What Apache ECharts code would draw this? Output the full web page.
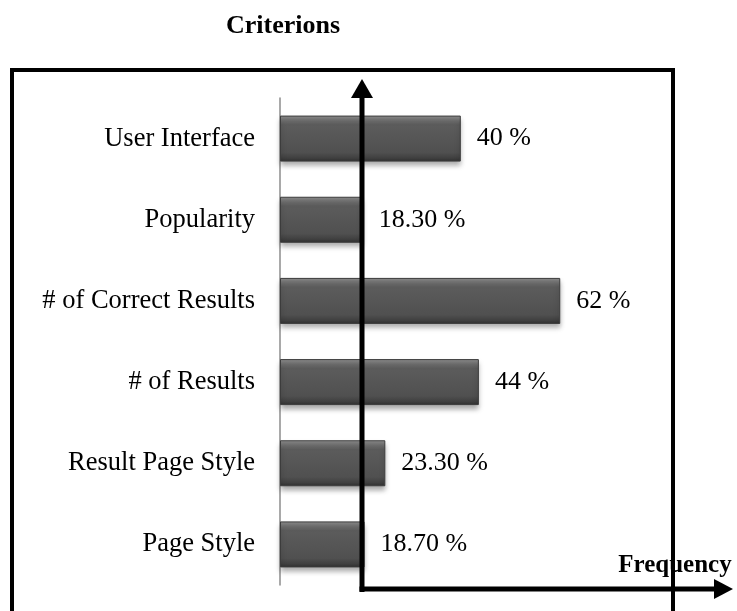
<!DOCTYPE html>
<html>
<head>
<meta charset="utf-8">
<script src="https://cdn.jsdelivr.net/npm/echarts@6/dist/echarts.min.js"></script>
<style>
  html, body { margin: 0; padding: 0; background: #fff; }
  #chart { width: 737px; height: 611px; }
</style>
</head>
<body>
<div id="chart"></div>
<script>
const criteria = ['User Interface', 'Popularity', '# of Correct Results', '# of Results', 'Result Page Style', 'Page Style'];
const frequency = [40, 18.3, 62, 44, 23.3, 18.7];
const valueLabels = ['40 %', '18.30 %', '62 %', '44 %', '23.30 %', '18.70 %'];

document.addEventListener('DOMContentLoaded', () => {
    const chartDom = document.getElementById('chart');
    const myChart = echarts.init(chartDom);
    const serif = 'Liberation Serif, Times New Roman, serif';

    const option = {
        backgroundColor: '#fff',
        animation: false,
        grid: { left: 280, top: 98, height: 487, width: 452 },
        xAxis: {
            type: 'value',
            min: 0,
            max: 100,
            show: false
        },
        yAxis: {
            type: 'category',
            data: criteria,
            inverse: true,
            axisLine: { show: true, lineStyle: { color: '#8c8c8c', width: 1.5 } },
            axisTick: { show: false },
            axisLabel: { color: '#000', fontSize: 26.5, fontFamily: serif, margin: 25 }
        },
        series: [{
            type: 'bar',
            data: frequency,
            barWidth: 46,
            itemStyle: {
                color: new echarts.graphic.LinearGradient(0, 0, 0, 1, [
                    { offset: 0, color: '#8e8e8e' },
                    { offset: 0.12, color: '#6e6e6e' },
                    { offset: 0.2, color: '#5c5c5c' },
                    { offset: 0.8, color: '#505050' },
                    { offset: 0.92, color: '#404040' },
                    { offset: 1, color: '#303030' }
                ]),
                borderColor: '#3c3c3c',
                borderWidth: 1,
                shadowColor: 'rgba(0,0,0,0.35)',
                shadowBlur: 5,
                shadowOffsetY: 4
            },
            label: {
                show: true,
                position: 'right',
                distance: 16,
                color: '#000',
                fontSize: 26,
                fontFamily: serif,
                formatter: (p) => valueLabels[p.dataIndex]
            }
        }],
        graphic: [
            // outer frame
            { type: 'rect', z: 10, shape: { x: 12, y: 70, width: 661, height: 600 },
              style: { fill: 'none', stroke: '#000', lineWidth: 4 } },
            { type: 'text', z: 10, x: 283, y: 26,
              style: { text: 'Criterions', font: 'bold 26px ' + serif, fill: '#000', align: 'center', verticalAlign: 'middle' } },
            { type: 'text', z: 10, x: 675, y: 566,
              style: { text: 'Frequency', font: 'bold 25px ' + serif, fill: '#000', align: 'center', verticalAlign: 'middle' } },
            // black arrows
            { type: 'line', z: 20, shape: { x1: 362, y1: 592, x2: 362, y2: 95 },
              style: { stroke: '#000', lineWidth: 5 } },
            { type: 'polygon', z: 20, shape: { points: [[351, 98], [373, 98], [362, 79]] },
              style: { fill: '#000' } },
            { type: 'line', z: 20, shape: { x1: 359.5, y1: 589, x2: 717, y2: 589 },
              style: { stroke: '#000', lineWidth: 5 } },
            { type: 'polygon', z: 20, shape: { points: [[714, 579], [714, 599], [733, 589]] },
              style: { fill: '#000' } }
        ]
    };
    myChart.setOption(option);
    window.addEventListener('resize', () => myChart.resize());
});
</script>
</body>
</html>
